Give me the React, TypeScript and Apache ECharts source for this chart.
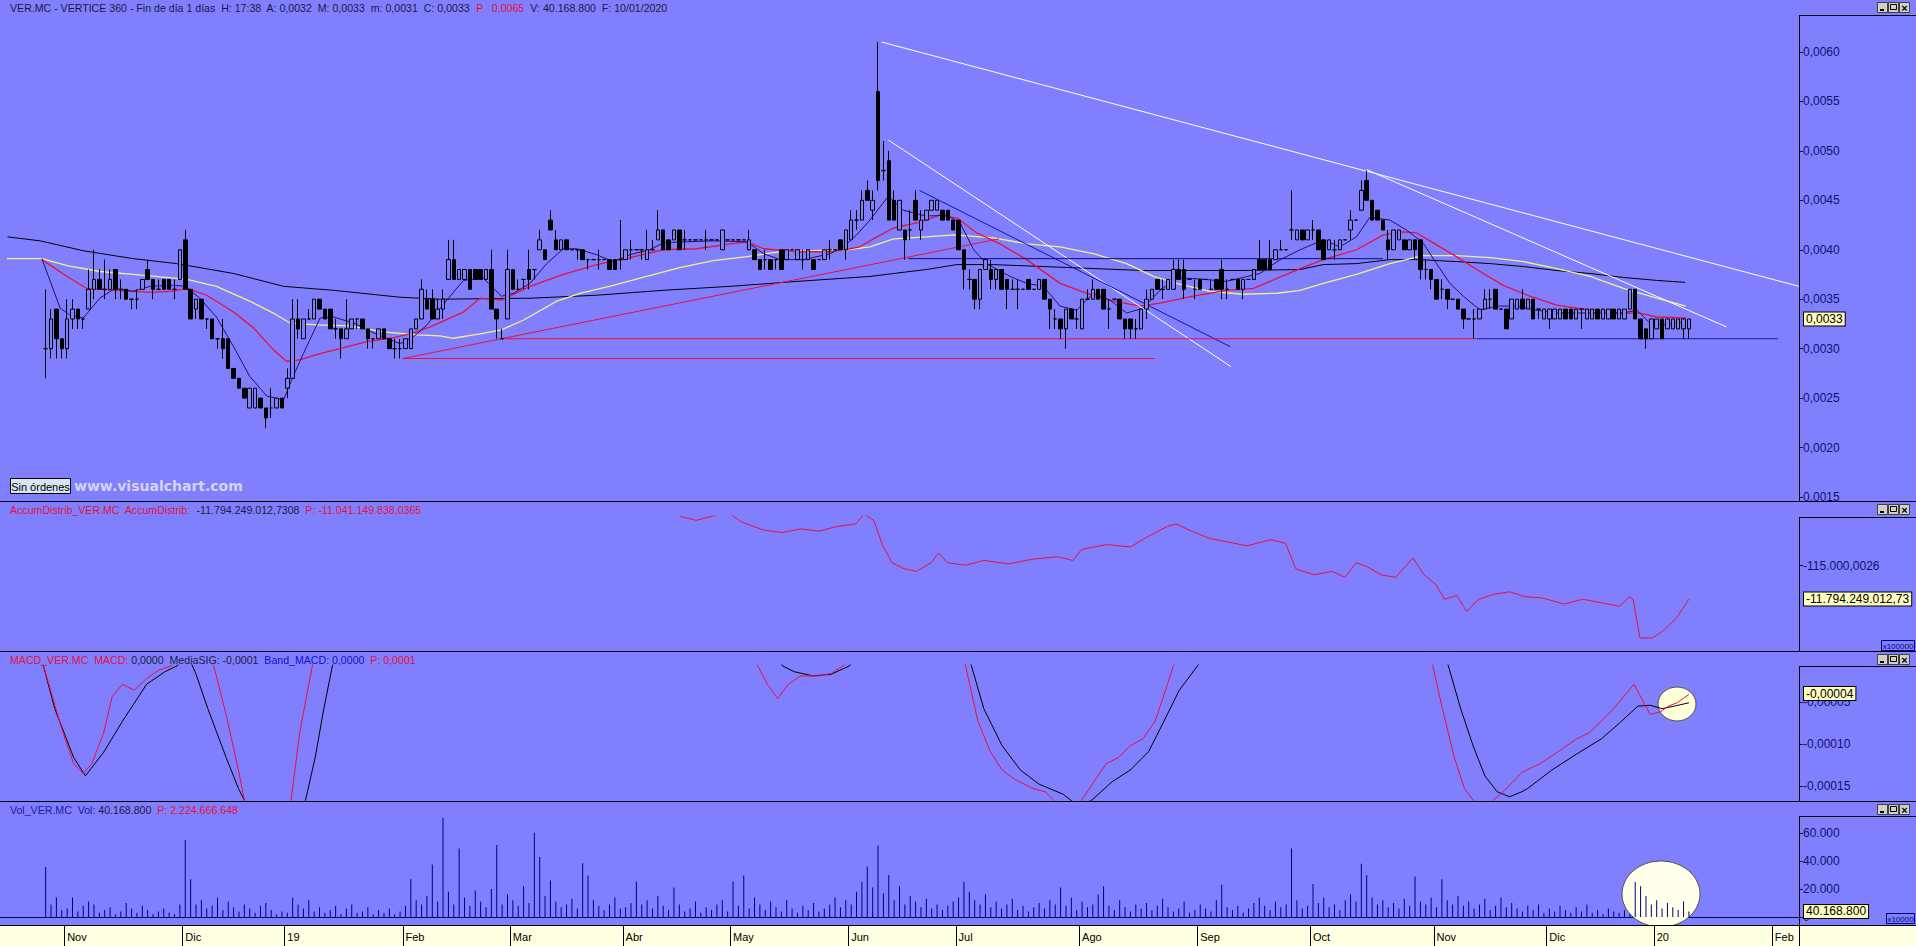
import React, { useEffect, useRef } from 'react';
import * as echarts from 'echarts';

// ---------- axis / scale constants ----------
const CATEGORY_COUNT = 335; // trading days Oct-16-2018 .. Feb-07-2020
const FIRST_DAY = 8; // first candle (Oct 26 2018)
const PRICE_UNIT = 0.0001;
const MACD_UNIT = 0.00001;

const MONTH_TICKS: [number, string][] = [
  [12, 'Nov'], [34, 'Dic'], [53, '19'], [75, 'Feb'], [95, 'Mar'], [116, 'Abr'], [136, 'May'],
  [158, 'Jun'], [178, 'Jul'], [201, 'Ago'], [223, 'Sep'], [244, 'Oct'], [267, 'Nov'], [288, 'Dic'],
  [308, '20'], [330, 'Feb'],
];

// ---------- candles [open, close, low, high] in 0.0001 ----------
const CANDLES_OCT18 = [[30,30,27,36],[30,33,29,34],[34,31,29,34],[31,30,29,31]];
const CANDLES_NOV18 = [[30,33,29,35],[33,34,32,35],[34,33,32,34],[33,33,32,33],[34,36,34,38],[36,37,35,40],[37,36,36,38],[36,36,35,39],[36,37,36,38],[38,36,35,38],[36,36,35,37],[36,35,35,36],[35,35,34,35],[35,35,34,36],[36,37,36,37],[38,37,37,39],[37,36,35,37],[36,36,36,37],[37,36,36,37],[37,36,36,37],[36,36,35,37],[37,40,37,40]];
const CANDLES_DEC18 = [[41,36,36,42],[36,33,33,36],[34,35,33,35],[35,33,33,35],[33,33,32,33],[33,31,31,33],[31,31,30,31],[31,30,29,33],[31,28,28,31],[28,27,27,28],[27,26,26,27],[26,25,25,26],[24,26,24,26],[24,26,24,26],[25,24,24,25],[24,23,22,24],[24,24,23,26],[24,25,24,25],[25,24,24,25]];
const CANDLES_JAN19 = [[26,27,25,28],[27,33,27,35],[33,32,31,35],[31,33,31,33],[33,33,33,34],[33,35,33,35],[35,34,34,35],[34,33,33,34],[34,32,32,34],[32,32,31,33],[32,31,29,32],[31,32,31,35],[32,33,32,33],[33,33,32,33],[33,32,32,33],[32,31,30,32],[31,31,30,31],[31,32,31,32],[32,31,31,32],[31,30,30,31],[30,30,29,31],[30,30,29,31]];
const CANDLES_FEB19 = [[30,31,30,31],[30,32,30,32],[32,33,32,33],[33,36,33,37],[35,34,34,36],[35,33,33,36],[33,34,33,35],[34,35,33,36],[37,39,37,41],[39,37,37,41],[37,38,37,38],[37,38,37,38],[38,36,36,38],[38,37,37,38],[38,37,37,38],[37,38,37,38],[38,34,34,40],[34,33,31,34],[31,31,31,32],[33,38,33,40]];
const CANDLES_MAR19 = [[38,36,36,38],[36,36,36,37],[37,37,36,37],[38,37,36,40],[38,38,37,38],[40,41,40,42],[40,39,39,40],[43,42,42,44],[41,40,40,42],[40,41,40,41],[41,40,40,41],[40,40,40,40],[40,40,39,40],[40,39,39,40],[39,39,38,39],[39,39,39,39],[39,39,38,40],[39,39,39,39],[39,38,38,39],[39,38,38,39],[39,39,38,43]];
const CANDLES_APR19 = [[39,40,39,40],[40,40,39,41],[40,40,40,40],[40,40,39,40],[39,40,39,42],[40,40,40,41],[41,42,41,44],[42,40,40,42],[41,40,40,41],[41,42,41,42],[42,40,40,42],[41,41,40,42],[41,41,41,41],[41,41,41,41],[41,41,41,41],[41,41,40,42],[41,41,41,41],[41,41,41,41],[40,42,40,42],[41,41,41,41]];
const CANDLES_MAY19 = [[41,41,41,41],[41,41,41,41],[41,41,41,41],[40,41,40,42],[40,39,39,40],[39,38,38,39],[39,39,38,40],[39,38,38,39],[39,39,38,39],[40,38,38,40],[39,40,39,40],[40,40,40,40],[39,40,39,40],[39,39,38,40],[39,40,39,40],[39,38,38,39],[39,39,39,39],[39,40,39,40],[40,40,39,41],[40,40,40,40],[41,40,40,41],[40,42,39,42]];
const CANDLES_JUN19 = [[41,43,41,44],[43,43,42,44],[43,45,43,46],[46,45,45,47],[44,45,43,46],[56,47,46,61],[48,48,47,51],[49,43,43,50],[45,43,43,46],[42,45,42,45],[42,41,39,42],[42,42,41,44],[45,43,43,46],[42,43,41,44],[43,44,43,44],[44,45,44,45],[44,45,44,45],[44,43,43,44],[44,43,43,44],[43,42,42,43]];
const CANDLES_JUL19 = [[43,40,40,43],[40,38,36,40],[37,37,36,38],[37,35,34,37],[35,38,34,38],[38,39,38,39],[38,37,36,39],[37,38,36,38],[38,36,36,38],[37,36,34,37],[36,36,36,37],[36,36,34,37],[36,36,36,36],[37,36,36,37],[36,36,36,36],[36,37,36,37],[37,35,35,37],[35,34,32,35],[33,33,32,34],[33,32,31,33],[32,34,30,34],[34,33,33,34],[33,33,32,34]];
const CANDLES_AUG19 = [[32,35,32,35],[35,35,35,36],[35,36,35,37],[36,35,35,36],[36,34,34,36],[34,34,32,35],[35,35,35,35],[35,33,33,35],[33,32,31,33],[33,32,31,33],[32,32,31,33],[32,34,32,34],[34,35,33,36],[35,36,35,36],[37,36,36,37],[36,36,35,37],[36,37,36,37],[36,38,36,39],[38,37,37,39],[38,36,35,39],[37,37,37,37],[36,36,35,37]];
const CANDLES_SEP19 = [[37,36,36,37],[37,37,37,37],[36,36,36,37],[37,36,36,37],[38,36,35,39],[36,36,35,37],[37,37,37,37],[37,36,36,37],[36,37,35,37],[37,37,37,37],[37,38,37,38],[39,38,38,41],[39,38,38,39],[39,38,38,41],[39,40,39,40],[40,40,40,41],[40,40,40,40],[42,42,41,46],[41,42,41,42],[42,41,41,42],[41,42,41,42]];
const CANDLES_OCT19 = [[42,42,41,43],[42,40,40,42],[41,39,39,41],[40,41,40,41],[40,40,39,41],[40,41,40,41],[41,41,41,41],[42,43,41,44],[43,43,43,43],[44,46,44,47],[47,45,45,48],[45,43,43,45],[44,43,43,44],[43,42,42,43],[41,40,39,42],[40,42,40,42],[41,42,41,42],[41,40,40,41],[40,41,40,41],[41,40,39,41],[41,38,37,41],[38,38,37,39],[38,37,36,38]];
const CANDLES_NOV19 = [[37,35,35,37],[36,36,35,37],[36,35,34,36],[35,35,35,35],[35,34,34,35],[34,33,32,34],[33,33,33,33],[33,33,31,34],[33,34,33,34],[34,35,34,36],[35,35,34,36],[36,34,34,36],[34,34,34,34],[34,32,32,34],[33,35,33,35],[34,35,34,35],[35,34,34,36],[34,35,34,35],[35,33,33,35],[34,34,33,34],[33,34,33,34]];
const CANDLES_DEC19 = [[33,34,32,34],[33,34,33,34],[33,34,33,34],[34,33,33,34],[34,33,33,34],[33,34,33,34],[34,34,32,34],[33,34,33,34],[33,34,33,34],[34,33,33,34],[33,34,33,34],[33,34,33,34],[34,33,33,34],[33,34,33,34],[33,34,33,34],[34,36,34,36],[36,33,33,36],[33,31,31,33],[32,31,30,32],[31,33,31,33]];
const CANDLES_JAN20 = [[32,33,32,33],[33,31,31,33],[32,33,32,33],[32,33,32,33],[32,33,32,33],[32,33,31,33],[32,33,31,33]];

// ---------- volume (x10000 shares) ----------
const VOL_OCT18 = [35800, 9000, 14000, 5000];
const VOL_NOV18 = [6000, 14000, 4000, 8000, 11000, 9000, 3000, 5000, 7000, 2000, 4000, 10000, 6000, 3000, 8000, 5000, 2000, 4000, 6000, 3000, 2000, 9000];
const VOL_DEC18 = [55000, 27000, 9000, 12000, 6000, 8000, 14000, 5000, 11000, 7000, 4000, 9000, 6000, 3000, 8000, 10000, 5000, 2000, 4000];
const VOL_JAN19 = [3000, 14000, 9000, 6000, 12000, 4000, 7000, 3000, 5000, 8000, 2000, 6000, 9000, 3000, 4000, 7000, 2000, 5000, 3000, 6000, 2000, 4000];
const VOL_FEB19 = [8000, 27000, 12000, 9000, 15000, 37500, 11000, 70700, 18000, 9000, 48900, 14000, 8000, 19000, 11000, 7000, 20000, 51500, 9000, 16000];
const VOL_MAR19 = [12000, 8000, 22000, 10000, 60200, 42800, 15000, 26000, 11000, 7000, 9000, 13000, 6000, 38400, 29700, 12000, 8000, 5000, 9000, 14000, 6000];
const VOL_APR19 = [7000, 10000, 25300, 9000, 12000, 6000, 15000, 8000, 5000, 21000, 9000, 4000, 6000, 11000, 3000, 7000, 5000, 9000, 12000, 4000];
const VOL_MAY19 = [25300, 8000, 29700, 6000, 14000, 9000, 5000, 11000, 7000, 4000, 12000, 6000, 3000, 8000, 5000, 10000, 4000, 6000, 9000, 14000, 7000, 12000];
const VOL_JUN19 = [9000, 18000, 25000, 36000, 21000, 51000, 17000, 30000, 12000, 22000, 9000, 15000, 11000, 7000, 13000, 6000, 9000, 5000, 8000, 11000];
const VOL_JUL19 = [14000, 25000, 18000, 12000, 9000, 16000, 7000, 11000, 6000, 9000, 13000, 5000, 8000, 4000, 7000, 10000, 6000, 12000, 9000, 21000, 8000, 14000, 5000];
const VOL_AUG19 = [11000, 7000, 9000, 16000, 22000, 8000, 5000, 12000, 7000, 4000, 9000, 6000, 10000, 5000, 8000, 13000, 7000, 4000, 6000, 11000, 3000, 5000];
const VOL_SEP19 = [9000, 6000, 4000, 12000, 23000, 7000, 5000, 8000, 3000, 6000, 10000, 14000, 8000, 5000, 11000, 7000, 9000, 49000, 12000, 6000, 8000];
const VOL_OCT19 = [23600, 10000, 14000, 7000, 9000, 5000, 12000, 16000, 11000, 38000, 30000, 14000, 9000, 12000, 7000, 10000, 6000, 13000, 8000, 29000, 11000, 9000, 14000];
const VOL_NOV19 = [7000, 27000, 12000, 9000, 15000, 8000, 11000, 6000, 9000, 13000, 5000, 8000, 14000, 7000, 10000, 6000, 4000, 8000, 5000, 9000, 3000];
const VOL_DEC19 = [6000, 4000, 8000, 5000, 3000, 7000, 4000, 9000, 3000, 5000, 2000, 6000, 4000, 3000, 5000, 2000, 25000, 22000, 15000, 9000];
const VOL_JAN20 = [12000, 6000, 10000, 7000, 5000, 11000, 4016.88];

// ---------- moving averages: [day index, price in 0.0001] ----------
const MA_SHORT = [[7.3,39.1],[10.7,34.1],[12.5,33.4],[15,33.1],[18.1,35.1],[20.9,36.1],[24.3,35.8],[27.4,36.3],[31.8,36.4],[34,36.3],[36.7,35.1],[39.8,33.2],[43,30.2],[46,27.2],[49.2,25.2],[52.3,24.8],[54.1,27.2],[56,29.5],[59.1,33.1],[61.6,33.2],[65.3,32.6],[69,31.6],[74,30.5],[76.5,31.2],[79,32.4],[82.7,34.9],[85.8,36.9],[89.5,37.1],[92.9,35.3],[95.1,35.6],[98.2,36.6],[101.3,38.6],[104.4,40.1],[106.9,40.1],[110.6,39.5],[113.7,38.8],[116.8,39.5],[120.5,40.0],[123,40.7],[126.8,40.8],[132.3,40.9],[138.6,40.8],[141.7,39.6],[144.8,39.0],[149.1,39.0],[154.1,39.6],[156.6,40.3],[159,41.5],[161.5,43.0],[164.9,45.4],[167.7,44.0],[172,43.4],[175.8,43.5],[178.3,42.7],[180.8,40.0],[183.2,38.6],[187.6,37.3],[190.7,36.6],[193.8,36.3],[196.9,34.3],[200,33.9],[203.1,35.6],[206.2,34.9],[209.3,33.6],[212.4,34.1],[215.5,35.9],[218.6,37.1],[221.7,37.1],[227.9,36.8],[234.1,37.6],[237.9,39.0],[241.6,40.0],[245.9,41.0],[249,40.3],[252.1,41.3],[254.6,43.3],[258.3,43.0],[261.4,42.0],[264.5,40.7],[267,38.6],[269.5,36.6],[272,35.3],[275.1,33.9],[278.2,34.3],[281.9,34.3],[285.6,33.9],[289.4,33.6],[295.6,33.6],[301.8,33.6],[304.3,33.9],[306.7,32.6],[309.2,32.4],[313.4,32.7]];
const MA_MID = [[7.3,39.0],[12,37.3],[15.6,36.1],[21.2,35.9],[27.4,35.7],[31.2,35.8],[34.3,36.1],[38,35.4],[43,33.7],[46.7,32.1],[50.4,29.9],[52.9,28.7],[55.4,28.9],[59.1,29.5],[62.8,30.0],[67.8,30.7],[72.7,31.1],[76.5,31.6],[79.6,32.2],[85.8,33.7],[88.9,35.1],[92.9,34.9],[98.2,36.3],[104.4,37.5],[110.6,38.5],[116.8,39.2],[123,40.0],[129.2,40.1],[135.5,40.6],[138.6,40.8],[141.7,40.1],[147.9,39.8],[154.1,39.8],[157.8,40.1],[159.6,40.3],[162.8,41.3],[165.9,42.2],[170.8,42.8],[174.5,43.5],[177.7,43.2],[181.4,41.7],[185.7,40.6],[190.7,39.0],[196.9,36.6],[201.9,35.6],[206.8,34.8],[211.8,34.3],[215.5,34.6],[221.7,35.3],[227.9,35.9],[232.9,36.1],[237.3,37.1],[241.6,38.1],[245.9,39.0],[252.1,40.0],[257.1,41.5],[260.8,41.8],[263.3,41.7],[266.4,40.7],[270.7,39.3],[274.5,38.0],[279.4,36.4],[284.4,35.3],[289.4,34.4],[295.6,33.9],[301.8,33.6],[304.9,33.6],[308,33.2],[313.4,33.1]];
const MA_LONG = [[0.8,39.1],[7.3,39.1],[12,38.4],[18.1,37.8],[24.3,37.5],[30.5,37.2],[34.3,37.0],[39.8,36.3],[46,34.8],[50.4,33.6],[53.5,32.6],[58.5,32.4],[64.7,32.3],[70.9,31.7],[77.1,31.4],[81.4,31.3],[83.9,31.05],[88.9,31.5],[92.9,31.9],[97,32.9],[103.2,34.8],[107.5,35.6],[113.7,36.4],[119.9,37.3],[126.1,38.2],[132.3,38.9],[138.6,39.3],[144.8,39.8],[151,39.9],[157.2,40.0],[161.5,40.3],[165.9,41.1],[172,41.3],[177,41.5],[184.5,41.2],[190.7,40.6],[196.9,40.3],[203.1,39.6],[209.3,38.6],[214.3,37.3],[218.6,36.6],[224.8,35.8],[231,35.5],[237.3,35.6],[241.6,35.9],[245.9,36.6],[252.1,37.5],[258.3,38.6],[264.5,39.4],[270.7,39.4],[277,39.2],[283.2,38.8],[289.4,38.1],[295.6,37.3],[301.8,36.1],[308,35.1],[313.4,34.3]];
const MA_200 = [[0.9,41.3],[7,40.9],[15,39.9],[24.3,39.1],[32.4,38.6],[43,37.6],[52.3,36.3],[61.6,35.9],[74,35.2],[81.4,35.0],[98.2,35.1],[110.6,35.4],[123,35.9],[135.5,36.3],[147.9,36.8],[161.5,37.3],[165.9,37.6],[172,38.0],[177.7,38.5],[184.5,38.5],[193.8,38.3],[203.1,38.1],[212.4,37.9],[221.7,37.9],[231,37.9],[241.6,38.0],[245.9,38.5],[252.1,38.6],[258.3,39.0],[263.9,39.0],[270.7,38.8],[277,38.6],[283.2,38.3],[289.4,37.9],[295.6,37.6],[301.8,37.2],[308,36.9],[313.3,36.7]];

// ---------- drawn trend lines: [day index, price in 0.0001] ----------
const TL_WHITE_1 = [[163.7, 61.0], [334.5, 36.3]];
const TL_WHITE_2 = [[164.9, 51.1], [228.7, 28.2]];
const TL_WHITE_3 = [[254, 48.1], [321, 32.2]];
const TL_BLUE_DIAG = [[170.7, 46.0], [228.6, 30.2]];
const TL_NAVY_FLAT = [[168.6, 39.1], [257, 39.1]];
const TL_RED_RISE = [[74.5, 29.0], [185.5, 41.1]];
const TL_RED_FLAT_29 = [[74.5, 29.0], [214.6, 29.0]];
const TL_RED_FLAT_31 = [[93, 31.0], [274.5, 31.0]];
const TL_BLUE_FLAT_31 = [[274.5, 31.0], [330.6, 31.0]];

// ---------- Accumulation / Distribution (x100000) ----------
const ACCUM_DIST = [[8,-100000],[90,-104000],[122.4,-108000],[126.3,-110700],[129.2,-111020],[132.6,-110600],[134.9,-110300],[137.9,-111230],[141.7,-111870],[145.2,-112090],[148.6,-111770],[152,-111970],[155.4,-111560],[158.8,-111340],[160.4,-110470],[162.2,-111020],[163.8,-113150],[165.6,-114740],[167.9,-115280],[170.2,-115500],[172.9,-114740],[174.3,-113890],[175.9,-114740],[179.3,-114970],[182.7,-114540],[187.3,-114850],[191.8,-114430],[196.4,-114220],[199.3,-114540],[200.9,-113580],[205.5,-113150],[210,-113360],[213.4,-112400],[216.9,-111560],[218.5,-111340],[221.4,-111970],[224.8,-112620],[228.2,-112930],[231.7,-113260],[236.2,-112720],[238.9,-113050],[240.8,-115280],[244.2,-115810],[247.6,-115500],[249.9,-116030],[252.1,-114740],[254,-115070],[256.7,-115810],[259.4,-116030],[261.2,-115070],[262.6,-114320],[264.7,-115810],[266.9,-116670],[268.5,-117950],[270.8,-117630],[272.6,-119010],[274.9,-117950],[277.6,-117520],[280.6,-117300],[283.5,-117730],[286.7,-117840],[290.8,-118380],[294.2,-117950],[297.7,-118260],[301.1,-118580],[302.9,-117730],[303.6,-117950],[304.9,-121360],[307.2,-121360],[309.5,-120610],[311.8,-119540],[314,-117942.49]];

// ---------- MACD (x0.00001) ----------
const MACD_LINE = [[7.5,-0.5],[8.6,-2.9],[10.9,-8.0],[13.2,-12.35],[15,-13.5],[16.6,-12.35],[18.8,-8.7],[20.4,-4.35],[22.3,-2.9],[24.5,-3.6],[26.8,-2.2],[29.1,-1.2],[31.4,-0.7],[35.2,3],[39.3,-0.7],[41.6,-6.5],[43.9,-13.1],[45,-16.7],[48.4,-30],[53.7,-16.7],[55.3,-8.7],[57.5,-1.2],[59.1,3],[90.5,15],[138.8,2],[140.6,-0.7],[142.4,-2.9],[144.3,-4.6],[146.3,-2.9],[148.6,-1.9],[152,-1.9],[154.3,-1.6],[156.5,-0.7],[158.8,3],[169.1,15],[178.2,2],[179.3,-0.7],[181.6,-7.3],[183.9,-10.9],[186.1,-13.1],[188.4,-14.2],[191.8,-15.3],[194.1,-15.7],[195.7,-16.7],[198.2,-19],[200.9,-16.7],[203.2,-14.5],[205.5,-12.35],[207.8,-11.6],[210,-10.2],[212.3,-9.4],[214.6,-7.3],[216.9,-2.9],[218,-0.7],[220.3,3],[243,15],[264.7,2],[266.3,-0.7],[268.1,-5.8],[270.3,-11.6],[272.2,-15.3],[273.8,-16.7],[275.6,-18],[277.6,-16.7],[279.4,-15.7],[282.9,-13.4],[286.3,-12.35],[289.7,-10.9],[293.1,-9.4],[295.4,-8.7],[297.7,-7.3],[300,-5.8],[302.2,-4.1],[303.8,-2.9],[305.2,-4.6],[306.8,-6.5],[308.6,-6.2],[310.2,-5.5],[311.8,-5.1],[314,-4.1]];
const MACD_SIGNAL = [[7.5,-0.5],[9.7,-5.8],[13.2,-11.6],[15.4,-13.8],[18.8,-11.0],[22.3,-7.3],[26.8,-2.9],[30.2,-1.4],[32.5,-0.7],[34.1,1],[35.9,-1.5],[38.2,-5.8],[41.6,-11.6],[43.9,-15.3],[45,-16.7],[50.7,-25],[56.4,-16.7],[58.2,-11.6],[59.8,-5.8],[61.4,-0.7],[64.4,4],[90.5,15],[142.9,2],[145.2,-0.7],[147.4,-1.4],[150.9,-1.9],[154.3,-1.7],[157.7,-0.7],[161.1,3],[169.1,15],[179.3,2],[180.4,-0.7],[182.7,-5.8],[186.1,-10.2],[189.5,-13.1],[193,-14.8],[197.5,-16],[200.5,-17.5],[202.8,-16.7],[206.6,-14.5],[210,-13.1],[213.4,-10.9],[215.7,-8.0],[219.1,-3.6],[222.5,-0.7],[226,3],[243,15],[268.1,2],[269.2,-0.7],[271.5,-5.8],[273.8,-10.2],[276,-13.8],[278.3,-15.7],[280.6,-16.3],[282.9,-15.7],[284,-15.3],[288.5,-13.1],[293.1,-11.2],[297.7,-9.4],[301.1,-7.5],[304.5,-5.5],[306.8,-5.4],[309,-5.8],[311.3,-5.5],[314,-5.1]];

// ---------- current values shown in the right-hand boxes ----------
const LAST_PRICE = 0.0033;
const LAST_AD = -117942.49;
const LAST_MACD = -0.00004;
const LAST_VOL = 4016.88;

// ---------- styling ----------
const BG = '#8080FF';
const FONT = '"Liberation Sans", Arial, sans-serif';
const NAVY = '#10106E';
const RED = '#E0103A';
const DARK = '#1A1A44';

const GRID_RIGHT = 1799;

function fmtThousands(v: number) {
  return String(Math.round(v)).replace(/\B(?=(\d{3})+(?!\d))/g, '.');
}

function buildOption() {
  const categories = Array.from({ length: CATEGORY_COUNT }, (_, i) => String(i));
  const monthMap = new Map<number, string>(MONTH_TICKS);
  const candles = ([] as number[][]).concat(
    CANDLES_OCT18, CANDLES_NOV18, CANDLES_DEC18, CANDLES_JAN19, CANDLES_FEB19, CANDLES_MAR19,
    CANDLES_APR19, CANDLES_MAY19, CANDLES_JUN19, CANDLES_JUL19, CANDLES_AUG19, CANDLES_SEP19,
    CANDLES_OCT19, CANDLES_NOV19, CANDLES_DEC19, CANDLES_JAN20,
  );
  const volumes = ([] as number[]).concat(
    VOL_OCT18, VOL_NOV18, VOL_DEC18, VOL_JAN19, VOL_FEB19, VOL_MAR19, VOL_APR19, VOL_MAY19,
    VOL_JUN19, VOL_JUL19, VOL_AUG19, VOL_SEP19, VOL_OCT19, VOL_NOV19, VOL_DEC19, VOL_JAN20,
  );
  const candleData = candles.map((c, k) => [FIRST_DAY + k, ...c.map((v) => v * PRICE_UNIT)]);
  const volData = volumes.map((v, k) => [FIRST_DAY + k, v]);
  const px = (pts: number[][]) => pts.map(([i, v]) => [i, v * PRICE_UNIT]);
  const mc = (pts: number[][]) => pts.map(([i, v]) => [i, v * MACD_UNIT]);

  const lineSeries = (name: string, data: number[][], color: string, xi: number, yi: number, width = 1, extra: any = {}) => ({
    name, type: 'line', xAxisIndex: xi, yAxisIndex: yi, data, showSymbol: false, symbol: 'none',
    lineStyle: { color, width }, itemStyle: { color }, clip: true, silent: true, z: 3, ...extra,
  });

  const valueLabel = (value: number, text: string) => ({
    symbol: 'none', silent: true, animation: false, precision: 10,
    lineStyle: { color: 'rgba(0,0,0,0)', width: 0 },
    label: {
      show: true, position: 'end', distance: 5, formatter: text, color: '#000', fontSize: 12,
      fontFamily: FONT, backgroundColor: '#FFFFC0', borderColor: '#000', borderWidth: 1,
      padding: [1, 2, 0, 2],
    },
    data: [{ yAxis: value }],
  });

  const hiddenValueX = (gridIndex: number) => ({
    type: 'value', gridIndex, min: -0.5, max: CATEGORY_COUNT - 0.5, show: false,
  });
  const hiddenCatX = (gridIndex: number, extra: any = {}) => ({
    type: 'category', gridIndex, data: categories, boundaryGap: true,
    axisLabel: { show: false }, axisTick: { show: false }, axisLine: { show: false },
    splitLine: { show: false }, ...extra,
  });
  const rightY = (gridIndex: number, extra: any) => ({
    type: 'value', gridIndex, position: 'right', scale: false,
    axisLine: { show: false, onZero: false },
    axisTick: { show: true, length: 4, lineStyle: { color: NAVY } },
    splitLine: { show: false },
    ...extra,
    axisLabel: { color: NAVY, fontSize: 12, fontFamily: FONT, margin: 4, ...(extra.axisLabel || {}) },
  });

  // ---- graphic helpers ----
  const hline = (y: number, x1: number, x2: number, color = '#000') => ({
    type: 'line', z: 20, silent: true, shape: { x1, y1: y + 0.5, x2, y2: y + 0.5 }, style: { stroke: color, lineWidth: 1 },
  });
  const vline = (x: number, y1: number, y2: number, color = '#000') => ({
    type: 'line', z: 20, silent: true, shape: { x1: x + 0.5, y1, x2: x + 0.5, y2 }, style: { stroke: color, lineWidth: 1 },
  });
  const buttons = (y: number) => {
    const els: any[] = [];
    [1877, 1888, 1899].forEach((bx, k) => {
      els.push({ type: 'rect', z: 20, silent: true, shape: { x: bx + 0.5, y: y + 0.5, width: 10, height: 10 }, style: { fill: '#D4D0C8', stroke: '#404040', lineWidth: 1 } });
      if (k === 0) els.push({ type: 'rect', z: 21, silent: true, shape: { x: bx + 3, y: y + 7, width: 4, height: 2 }, style: { fill: '#000' } });
      if (k === 1) els.push({ type: 'rect', z: 21, silent: true, shape: { x: bx + 2.5, y: y + 2.5, width: 6, height: 5 }, style: { fill: 'none', stroke: '#000', lineWidth: 1 } });
      if (k === 2) els.push({ type: 'text', z: 21, silent: true, x: bx + 5.5, y: y + 5.5, style: { text: '×', fill: '#000', fontSize: 11, fontWeight: 'bold', fontFamily: FONT, align: 'center', verticalAlign: 'middle', textAlign: 'center', textVerticalAlign: 'middle' } });
    });
    return els;
  };
  const header = (y: number, text: string, rich: any) => ({
    type: 'text', z: 20, silent: true, x: 10, y,
    style: { text, rich, fontSize: 10.6, fontFamily: FONT, fill: DARK, verticalAlign: 'middle', textVerticalAlign: 'middle' },
  });
  const r = (fill: string) => ({ fill, fontSize: 10.6, fontFamily: FONT });

  const graphic: any[] = [
    // highlight ellipses (below series)
    { type: 'ellipse', z: 1, silent: true, shape: { cx: 1661, cy: 894, rx: 39, ry: 33 }, style: { fill: '#FFFFEA', stroke: '#505050', lineWidth: 1 } },
    { type: 'ellipse', z: 1, silent: true, shape: { cx: 1677, cy: 704, rx: 19, ry: 17 }, style: { fill: '#FFFFD8', stroke: '#505050', lineWidth: 1 } },
    // x-axis band
    { type: 'rect', z: 15, silent: true, shape: { x: 0, y: 925, width: 1916, height: 21 }, style: { fill: '#FFFFE1' } },
    hline(925, 0, 1916),
    // pane separators
    hline(501, 0, 1916), hline(651, 0, 1916), hline(801, 0, 1916),
    // right scale boxes
    hline(15, GRID_RIGHT, 1916), vline(GRID_RIGHT, 15, 502),
    hline(517, GRID_RIGHT, 1916), vline(GRID_RIGHT, 517, 652),
    hline(666, GRID_RIGHT, 1916), vline(GRID_RIGHT, 666, 802),
    hline(816, GRID_RIGHT, 1916), vline(GRID_RIGHT, 816, 925),
    ...buttons(2), ...buttons(504), ...buttons(654), ...buttons(804),
    // multiplier boxes
    { type: 'rect', z: 20, silent: true, shape: { x: 1881.5, y: 640.5, width: 33, height: 10 }, style: { fill: BG, stroke: '#000080', lineWidth: 1 } },
    { type: 'text', z: 21, silent: true, x: 1898, y: 646, style: { text: 'x100000', fill: '#000080', fontSize: 8, fontFamily: FONT, align: 'center', verticalAlign: 'middle', textAlign: 'center', textVerticalAlign: 'middle' } },
    { type: 'rect', z: 20, silent: true, shape: { x: 1886.5, y: 913.5, width: 28, height: 10 }, style: { fill: BG, stroke: '#000080', lineWidth: 1 } },
    { type: 'text', z: 21, silent: true, x: 1900.5, y: 919, style: { text: 'x10000', fill: '#000080', fontSize: 8, fontFamily: FONT, align: 'center', verticalAlign: 'middle', textAlign: 'center', textVerticalAlign: 'middle' } },
    // headers
    header(8, '{d|VER.MC - VERTICE 360 - Fin de día 1 días  H: 17:38  A: 0,0032  M: 0,0033  m: 0,0031  C: 0,0033  }{r|P   0,0065}{d|  V: 40.168.800  F: 10/01/2020}', { d: r(DARK), r: r(RED) }),
    header(510, '{r|AccumDistrib_VER.MC  AccumDistrib:}{d|  -11.794.249.012,7308  }{r|P: -11.041.149.838,0365}', { d: r(DARK), r: r(RED) }),
    header(660, '{r|MACD_VER.MC  MACD:}{d| 0,0000  MediaSIG: -0,0001  }{b|Band_MACD: 0,0000  }{r|P: 0,0001}', { d: r(DARK), r: r(RED), b: r('#1010C8') }),
    header(810, '{b|Vol_VER.MC  Vol:}{d| 40.168.800  }{r|P: 2.224.666.648}', { d: r(DARK), r: r(RED), b: r('#1A1AA0') }),
    // order button + watermark
    { type: 'rect', z: 20, silent: true, shape: { x: 10.5, y: 478.5, width: 60, height: 15 }, style: { fill: '#D8E4F2', stroke: '#000', lineWidth: 1 } },
    { type: 'text', z: 21, silent: true, x: 40.5, y: 486.5, style: { text: 'Sin órdenes', fill: '#000', fontSize: 11, fontFamily: FONT, align: 'center', verticalAlign: 'middle', textAlign: 'center', textVerticalAlign: 'middle' } },
    { type: 'text', z: 21, silent: true, x: 74, y: 486, style: { text: 'www.visualchart.com', fill: '#D4D4F2', fontSize: 14, fontWeight: 'bold', fontFamily: '"DejaVu Sans", Verdana, sans-serif', verticalAlign: 'middle', textVerticalAlign: 'middle' } },
  ];

  return {
    animation: false,
    backgroundColor: BG,
    grid: [
      { left: 0, width: GRID_RIGHT, top: 15, height: 482 },   // price (bottom = 0.0015)
      { left: 0, width: GRID_RIGHT, top: 516, height: 135 },  // AccumDistrib
      { left: 0, width: GRID_RIGHT, top: 665, height: 136 },  // MACD
      { left: 0, width: GRID_RIGHT, top: 815, height: 102 },  // Volume (bottom = 0)
      { left: 0, width: GRID_RIGHT, top: 925, height: 21 },   // date axis band
    ],
    xAxis: [
      hiddenCatX(0),
      hiddenValueX(0),
      hiddenValueX(1),
      hiddenValueX(2),
      hiddenCatX(3, { axisLine: { show: true, onZero: false, lineStyle: { color: '#000080', width: 1 } } }),
      {
        type: 'category', gridIndex: 4, data: categories, boundaryGap: true, position: 'top', z: 30,
        axisLine: { show: false, onZero: false },
        axisTick: { show: true, inside: true, length: 21, interval: (i: number) => monthMap.has(i), lineStyle: { color: '#000' } },
        axisLabel: {
          show: true, inside: true, margin: 6, align: 'left', verticalAlign: 'top', color: '#000', fontSize: 11, fontFamily: FONT,
          interval: (i: number) => monthMap.has(i),
          formatter: (v: string) => monthMap.get(Number(v)) ?? '',
        },
        splitLine: { show: false },
      },
    ],
    yAxis: [
      rightY(0, {
        min: 0.0015, max: 0.0015 + 482 / 98900, interval: 0.0005,
        axisLabel: { showMaxLabel: false, formatter: (v: number) => v.toFixed(4).replace('.', ',') },
      }),
      rightY(1, {
        min: -122500, max: -110640, interval: 7500,
        axisLabel: { showMaxLabel: false, showMinLabel: false, formatter: (v: number) => (Math.abs(v + 115000) < 1 ? '-115.000,0026' : '') },
      }),
      rightY(2, {
        min: -0.000168, max: -0.000006, splitNumber: 3,
        axisLabel: {
          showMaxLabel: false, showMinLabel: false,
          formatter: (v: number) => {
            const k = Math.round(v / 0.00005);
            return Math.abs(v - k * 0.00005) < 1e-10 ? v.toFixed(5).replace('.', ',') : '';
          },
        },
      }),
      rightY(3, {
        min: 0, max: 72857, interval: 20000,
        axisLabel: { showMaxLabel: false, formatter: (v: number) => fmtThousands(v) },
      }),
      { type: 'value', gridIndex: 4, show: false, min: 0, max: 1 },
    ],
    graphic,
    series: [
      {
        name: 'VER.MC', type: 'candlestick', xAxisIndex: 0, yAxisIndex: 0, data: candleData,
        encode: { x: 0, y: [1, 2, 3, 4] }, barWidth: 4, silent: true, z: 4,
        itemStyle: { color: BG, color0: '#000', borderColor: '#000', borderColor0: '#000', borderWidth: 1 },
        markLine: valueLabel(LAST_PRICE, '0,0033'),
      },
      lineSeries('MA long', px(MA_200), '#000000', 1, 0),
      lineSeries('MA 50', px(MA_LONG), '#F4F080', 1, 0, 1.3),
      lineSeries('MA 20', px(MA_MID), '#E8103C', 1, 0, 1.3),
      lineSeries('MA 5', px(MA_SHORT), '#2A0A6A', 1, 0),
      lineSeries('TL white 1', px(TL_WHITE_1), '#FFFFFF', 1, 0),
      lineSeries('TL white 2', px(TL_WHITE_2), '#FFFFFF', 1, 0),
      lineSeries('TL white 3', px(TL_WHITE_3), '#FFFFFF', 1, 0),
      lineSeries('TL blue', px(TL_BLUE_DIAG), '#1414A8', 1, 0),
      lineSeries('TL navy', px(TL_NAVY_FLAT), '#0A0A78', 1, 0),
      lineSeries('TL red rise', px(TL_RED_RISE), '#E8103C', 1, 0),
      lineSeries('TL red 29', px(TL_RED_FLAT_29), '#E8103C', 1, 0),
      lineSeries('TL red 31', px(TL_RED_FLAT_31), '#E8103C', 1, 0),
      lineSeries('TL blue 31', px(TL_BLUE_FLAT_31), '#1414B0', 1, 0),
      lineSeries('AccumDistrib', ACCUM_DIST, '#E8103C', 2, 1, 1, { markLine: valueLabel(LAST_AD, '-11.794.249.012,73') }),
      lineSeries('MediaSIG', mc(MACD_SIGNAL), '#000000', 3, 2),
      lineSeries('MACD', mc(MACD_LINE), '#E8103C', 3, 2, 1, { markLine: valueLabel(LAST_MACD, '-0,00004') }),
      {
        name: 'Vol', type: 'bar', xAxisIndex: 4, yAxisIndex: 3, data: volData, barWidth: 1, silent: true, z: 4,
        itemStyle: { color: '#00007A' },
        markLine: valueLabel(LAST_VOL, '40.168.800'),
      },
    ],
  };
}

export default function App() {
  const ref = useRef<HTMLDivElement>(null);
  useEffect(() => {
    const el = ref.current;
    if (!el) return;
    const chart = echarts.init(el, undefined, { renderer: 'svg' });
    chart.setOption(buildOption() as any);
    return () => chart.dispose();
  }, []);
  return <div ref={ref} style={{ position: 'fixed', left: 0, top: 0, width: 1916, height: 946 }} />;
}
